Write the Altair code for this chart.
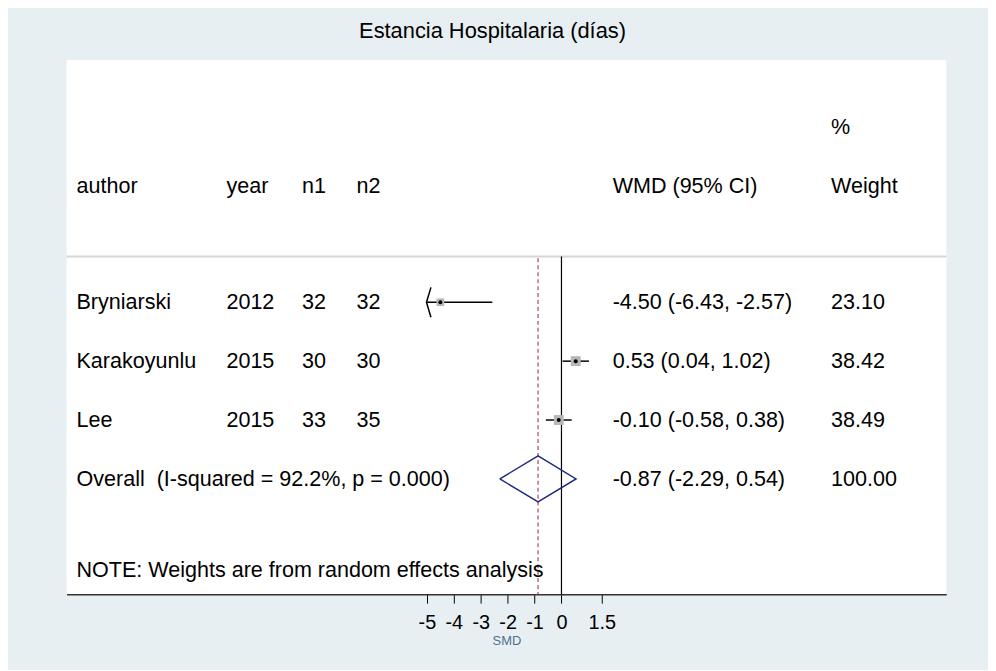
import altair as alt
import pandas as pd

# ---------------- data ----------------
authors = ["Bryniarski", "Karakoyunlu", "Lee"]
years = [2012, 2015, 2015]
n1 = [32, 30, 33]
n2 = [32, 30, 35]
wmd = [-4.50, 0.53, -0.10]
ci_low = [-6.43, 0.04, -0.58]
ci_high = [-2.57, 1.02, 0.38]
weights = [23.10, 38.42, 38.49]

overall_wmd = -0.87
overall_low = -2.29
overall_high = 0.54
overall_weight = 100.00
i_squared = 92.2
p_value = 0.000

tick_values = [-5, -4, -3, -2, -1, 0, 1.5]
header_labels = ["author", "year", "n1", "n2", "WMD (95% CI)", "Weight"]
pct_label = "%"
note_text = "NOTE: Weights are from random effects analysis"
title_text = "Estancia Hospitalaria (días)"
axis_title = "SMD"

# ---------------- layout / style ----------------
W, H = 886, 538
X_DOMAIN = [-18.39, 14.30]
Y_DOMAIN = [-4.115, 4.958]
HEADER_ROW = -1.97
PCT_ROW = -2.97
SEP_ROW = -0.776
NOTE_ROW = 4.55
DIAMOND_HALF = 0.39
COL_X = {"author": 10, "year": 161, "n1": 237, "n2": 292, "wmd": 550, "weight": 770}
FONT = "Liberation Sans"
FS = 21.7
BG = "#e8eff2"

x_scale = alt.Scale(domain=X_DOMAIN, nice=False, zero=False)
y_scale = alt.Scale(domain=Y_DOMAIN, nice=False, zero=False, reverse=True)
x_axis = alt.Axis(
    values=tick_values, title=axis_title, labelExpr="datum.value + ''",
    labelFont=FONT, labelFontSize=20, labelColor="black", labelOverlap=False,
    labelFlush=False, labelPadding=9.5, tickSize=9, tickColor="black", tickWidth=1,
    domainColor="#333333", domainWidth=1.6, grid=False,
    titleFont=FONT, titleFontSize=13, titleFontWeight="normal",
    titleColor="#4d7191", titlePadding=2.5,
)


def X(field):
    return alt.X(field, type="quantitative", scale=x_scale, axis=x_axis)


def Y(field):
    return alt.Y(field, type="quantitative", scale=y_scale, axis=None)


min_tick = min(tick_values)
studies = pd.DataFrame({
    "row": list(range(len(authors))),
    "author": authors,
    "year": [str(v) for v in years],
    "n1": [str(v) for v in n1],
    "n2": [str(v) for v in n2],
    "est": wmd,
    "lo": ci_low,
    "hi": ci_high,
    "weight": weights,
})
studies["lo_clip"] = studies["lo"].clip(lower=min_tick)
studies["wmd_label"] = [f"{e:.2f} ({l:.2f}, {h:.2f})" for e, l, h in zip(wmd, ci_low, ci_high)]
studies["weight_label"] = [f"{w:.2f}" for w in weights]

overall_row = len(authors)
table = pd.concat([
    studies[["row", "author", "year", "n1", "n2", "wmd_label", "weight_label"]],
    pd.DataFrame({
        "row": [overall_row],
        "author": [f"Overall\u00a0 (I-squared = {i_squared:.1f}%, p = {p_value:.3f})"],
        "year": [""], "n1": [""], "n2": [""],
        "wmd_label": [f"{overall_wmd:.2f} ({overall_low:.2f}, {overall_high:.2f})"],
        "weight_label": [f"{overall_weight:.2f}"],
    }),
], ignore_index=True)

header = pd.DataFrame({"row": [HEADER_ROW] * 6, "label": header_labels,
                       "col": ["author", "year", "n1", "n2", "wmd", "weight"]})

layers = []

# header separator
layers.append(alt.Chart(pd.DataFrame({"y": [SEP_ROW]})).mark_rule(
    color="#d6d6d6", strokeWidth=2).encode(y=Y("y")))

# null line
layers.append(alt.Chart(pd.DataFrame({"x": [0], "y": [SEP_ROW], "y2": [Y_DOMAIN[1]]})).mark_rule(
    color="black", strokeWidth=1.2).encode(x=X("x"), y=Y("y"), y2="y2"))

# overall dashed line
layers.append(alt.Chart(pd.DataFrame({"x": [overall_wmd], "y": [SEP_ROW + 0.03], "y2": [Y_DOMAIN[1]]})).mark_rule(
    color="#b5636f", strokeWidth=1.4, strokeDash=[4, 3]).encode(x=X("x"), y=Y("y"), y2="y2"))

# CI lines
layers.append(alt.Chart(studies).mark_rule(color="black", strokeWidth=1.5).encode(
    x=X("lo_clip"), x2="hi", y=Y("row")))

# arrow for clipped CI
layers.append(alt.Chart(studies[studies["lo"] < min_tick]).mark_point(
    shape="M0.27,-1L-0.03,0L0.27,1", filled=False, stroke="black", strokeWidth=1.5,
    size=900, opacity=1).encode(x=X("lo_clip"), y=Y("row")))

# weight boxes
layers.append(alt.Chart(studies).mark_square(color="#b7b7b7", opacity=1).encode(
    x=X("est"), y=Y("row"),
    size=alt.Size("weight:Q", scale=alt.Scale(domain=[0, 100], range=[0, 260], zero=True), legend=None)))

# point estimates
layers.append(alt.Chart(studies).mark_circle(color="black", size=16, opacity=1).encode(
    x=X("est"), y=Y("row")))

# diamond
diamond = pd.DataFrame({
    "x": [overall_low, overall_wmd, overall_high, overall_wmd, overall_low],
    "y": [overall_row, overall_row - DIAMOND_HALF, overall_row, overall_row + DIAMOND_HALF, overall_row],
    "ord": [0, 1, 2, 3, 4],
})
layers.append(alt.Chart(diamond).mark_line(color="#1f2a7c", strokeWidth=1.5).encode(
    x=X("x"), y=Y("y"), order="ord:Q"))

# table text
col_fields = [("author", "author"), ("year", "year"), ("n1", "n1"), ("n2", "n2"),
              ("wmd", "wmd_label"), ("weight", "weight_label")]
for col, field in col_fields:
    layers.append(alt.Chart(table).mark_text(
        font=FONT, fontSize=FS, align="left", baseline="middle", color="black").encode(
        x=alt.value(COL_X[col]), y=Y("row"), text=f"{field}:N"))

for col in ["author", "year", "n1", "n2", "wmd", "weight"]:
    layers.append(alt.Chart(header[header["col"] == col]).mark_text(
        font=FONT, fontSize=FS, align="left", baseline="middle", color="black").encode(
        x=alt.value(COL_X[col]), y=Y("row"), text="label:N"))

layers.append(alt.Chart(pd.DataFrame({"row": [PCT_ROW], "label": [pct_label]})).mark_text(
    font=FONT, fontSize=FS, align="left", baseline="middle", color="black").encode(
    x=alt.value(COL_X["weight"]), y=Y("row"), text="label:N"))

layers.append(alt.Chart(pd.DataFrame({"row": [NOTE_ROW], "label": [note_text]})).mark_text(
    font=FONT, fontSize=FS, align="left", baseline="middle", color="black").encode(
    x=alt.value(COL_X["author"]), y=Y("row"), text="label:N"))

chart = alt.layer(*layers).properties(
    width=W, height=H,
    autosize=alt.AutoSizeParams(type="none"),
    padding={"left": 59, "top": 50, "right": 42, "bottom": 74},
    background=BG,
    title=alt.TitleParams(text=title_text, font=FONT, fontSize=22, fontWeight="normal",
                          color="black", anchor="middle", frame="group", dx=-14, offset=17),
).configure_view(fill="white", stroke="white", strokeWidth=0)

chart.save("out.html", embed_options={"renderer": "svg", "actions": False})
